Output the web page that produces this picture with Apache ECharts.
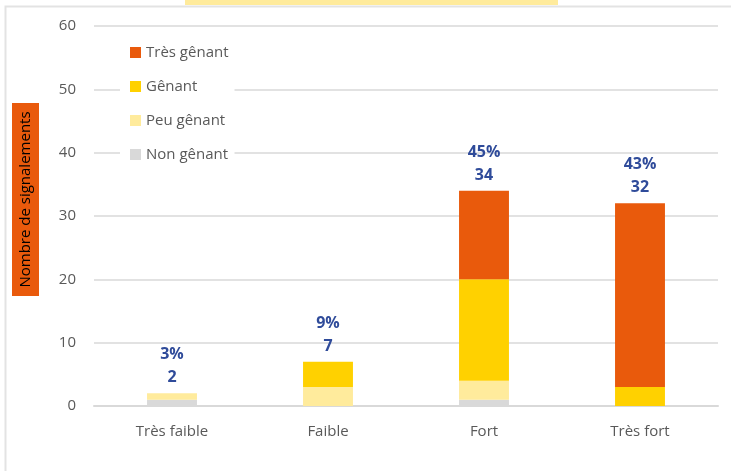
<!DOCTYPE html>
<html>
<head>
<meta charset="utf-8">
<script src="https://cdn.jsdelivr.net/npm/echarts@6/dist/echarts.min.js"></script>
<style>html,body{margin:0;padding:0;background:#fff}#c{width:731px;height:471px}</style>
</head>
<body>
<div id="c"></div>
<script>
const categories = ['Très faible', 'Faible', 'Fort', 'Très fort'];
const nonGenant = [1, 0, 1, 0];
const peuGenant = [1, 3, 3, 0];
const genant = [0, 4, 16, 3];
const tresGenant = [0, 0, 14, 29];
const totals = [2, 7, 34, 32];
const percents = ['3%', '9%', '45%', '43%'];
const yTicks = [0, 10, 20, 30, 40, 50, 60];
const yTitle = 'Nombre de signalements';

const font = '"Open Sans", "Noto Sans", sans-serif';
const chart = echarts.init(document.getElementById('c'));
const barW = '32%';
function mk(name, data, color) {
  return { name, type: 'bar', stack: 's', data, barWidth: barW, itemStyle: { color }, emphasis: { disabled: true } };
}
chart.setOption({
  animation: false,
  textStyle: { fontFamily: font },
  graphic: [
    { type: 'rect', shape: { x: 185, y: -10, width: 373, height: 15 }, style: { fill: '#FFEB9C' } },
    { type: 'rect', shape: { x: 5.5, y: 6.5, width: 740, height: 480 }, style: { fill: 'none', stroke: '#E3E3E3', lineWidth: 2 } },
    { type: 'rect', shape: { x: 12, y: 103, width: 27, height: 193 }, style: { fill: '#E95A0C' } },
    { type: 'text', x: 25.5, y: 199.5, rotation: Math.PI / 2,
      style: { text: yTitle, fill: '#000', fontSize: 15, fontFamily: font, align: 'center', verticalAlign: 'middle' } }
  ],
  grid: { left: 94, right: 13, top: 26, bottom: 65 },
  legend: {
    data: ['Très gênant', 'Gênant', 'Peu gênant', 'Non gênant'],
    orient: 'vertical', left: 120, top: 37,
    backgroundColor: '#fff', padding: [8, 6, 8, 10],
    itemWidth: 11, itemHeight: 11, itemGap: 19,
    icon: 'rect',
    textStyle: { color: '#595959', fontSize: 15, fontFamily: font }
  },
  xAxis: {
    type: 'category', data: categories,
    axisLine: { lineStyle: { color: '#D9D9D9', width: 2 } },
    axisTick: { show: false },
    axisLabel: { color: '#595959', fontSize: 15, margin: 18, fontFamily: font }
  },
  yAxis: {
    type: 'value', min: 0, max: 60, interval: 10,
    axisLabel: { color: '#595959', fontSize: 15, margin: 18, fontFamily: font, formatter: v => yTicks.includes(v) ? String(v) : '' },
    splitLine: { lineStyle: { color: '#D9D9D9', width: 1.5 } },
    axisLine: { show: false }, axisTick: { show: false }
  },
  series: [
    mk('Non gênant', nonGenant, '#D9D9D9'),
    mk('Peu gênant', peuGenant, '#FFEB9C'),
    mk('Gênant', genant, '#FFD100'),
    mk('Très gênant', tresGenant, '#E95A0C'),
    {
      name: 'Total', type: 'bar', stack: 's', barWidth: barW,
      data: totals.map(() => 0), itemStyle: { color: 'transparent' },
      label: {
        show: true, position: 'top', distance: 4,
        formatter: p => percents[p.dataIndex] + '\n' + totals[p.dataIndex],
        color: '#2F4B9A', fontWeight: 'bold', fontSize: 16, lineHeight: 23, fontFamily: font
      },
      emphasis: { disabled: true }
    }
  ]
});
</script>
</body>
</html>
